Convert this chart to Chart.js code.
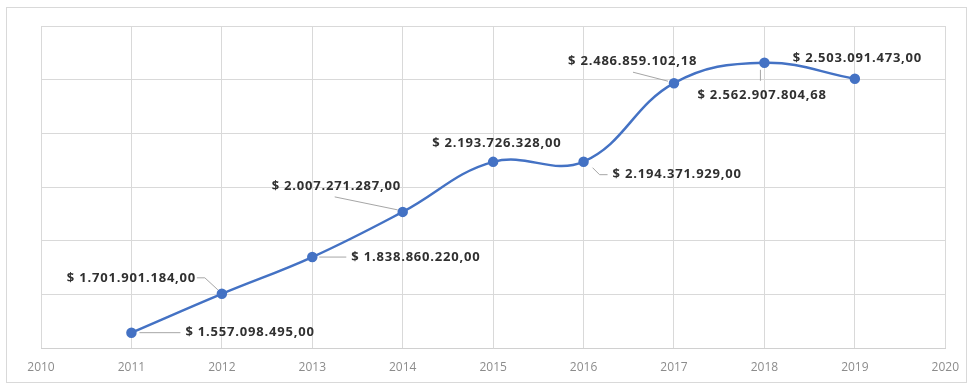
<!DOCTYPE html>
<html>
<head>
<meta charset="utf-8">
<script src="https://cdn.jsdelivr.net/npm/chart.js@4"></script>
<style>
  html, body { margin: 0; padding: 0; background: #ffffff; }
  #wrap { width: 971px; height: 386px; position: relative; }
</style>
</head>
<body>
<div id="wrap"><canvas id="chart" width="971" height="386"></canvas></div>
<script>
// yearly totals
const years = [2011, 2012, 2013, 2014, 2015, 2016, 2017, 2018, 2019];
const totals = [
  1557098495.00, 1701901184.00, 1838860220.00, 2007271287.00, 2193726328.00,
  2194371929.00, 2486859102.18, 2562907804.68, 2503091473.00
];
const xTicks = [2010, 2011, 2012, 2013, 2014, 2015, 2016, 2017, 2018, 2019, 2020];

// where each value label sits relative to its point, plus its leader line
const labelPlacement = [
  { dx: 54, dy: 0, leader: [[8, 0], [49, 0]] },
  { dx: -155, dy: -16, leader: [[-25, -16], [-17, -16], [-4, -4]] },
  { dx: 39, dy: 0, leader: [[7, 0], [34, 0]] },
  { dx: -131, dy: -26, leader: [[-68, -15], [-5, -2]] },
  { dx: -61, dy: -19, leader: null },
  { dx: 29, dy: 13, leader: [[9, 6], [16, 13], [24, 13]] },
  { dx: -106, dy: -22, leader: [[-41, -11], [-6, -2]] },
  { dx: -67, dy: 33, leader: [[-4, 7], [-4, 18]] },
  { dx: -62, dy: -21, leader: null }
];

function money(v) {
  const [ent, dec] = v.toFixed(2).split('.');
  return '$ ' + ent.replace(/\B(?=(\d{3})+(?!\d))/g, '.') + ',' + dec;
}

const frame = {
  id: 'frame',
  beforeDraw(chart) {
    const ctx = chart.ctx;
    ctx.save();
    ctx.fillStyle = '#ffffff';
    ctx.fillRect(0, 0, chart.width, chart.height);
    ctx.strokeStyle = '#d9d9d9';
    ctx.lineWidth = 1;
    ctx.strokeRect(6.5, 7.5, 960, 375);
    ctx.restore();
  }
};

const valueLabels = {
  id: 'valueLabels',
  afterDatasetsDraw(chart) {
    const ctx = chart.ctx;
    const pts = chart.getDatasetMeta(0).data;
    ctx.save();
    pts.forEach((p, i) => {
      const pl = labelPlacement[i];
      if (pl.leader) {
        ctx.strokeStyle = '#a6a6a6';
        ctx.lineWidth = 1;
        ctx.beginPath();
        pl.leader.forEach(([lx, ly], k) => {
          if (k === 0) ctx.moveTo(p.x + lx, p.y + ly);
          else ctx.lineTo(p.x + lx, p.y + ly);
        });
        ctx.stroke();
      }
      ctx.fillStyle = '#303030';
      ctx.font = '700 13px "Open Sans"';
      ctx.letterSpacing = '0.8px';
      ctx.textAlign = 'left';
      ctx.textBaseline = 'middle';
      ctx.fillText(money(totals[i]), p.x + pl.dx, p.y + pl.dy);
    });
    ctx.restore();
  }
};

new Chart(document.getElementById('chart'), {
  type: 'line',
  data: {
    datasets: [{
      data: years.map((y, i) => ({ x: y, y: totals[i] })),
      borderColor: '#4472c4',
      backgroundColor: '#4472c4',
      borderWidth: 2.5,
      pointRadius: 4,
      pointBackgroundColor: '#4472c4',
      pointBorderColor: '#4472c4',
      tension: 0.4,
      fill: false
    }]
  },
  options: {
    responsive: false,
    animation: false,
    layout: { padding: { left: 41, top: 26, right: 24, bottom: 0 } },
    plugins: {
      legend: { display: false },
      tooltip: { enabled: false }
    },
    scales: {
      x: {
        type: 'linear',
        min: 2010,
        max: 2020,
        afterBuildTicks: (s) => { s.ticks = xTicks.map(v => ({ value: v })); },
        afterFit: (s) => { s.height = 38; },
        grid: { color: '#d9d9d9', drawTicks: false },
        border: { color: '#d0d0d0' },
        ticks: {
          padding: 12,
          color: '#8c8c8c',
          font: { family: 'Open Sans', size: 12 },
          callback: (v) => String(v)
        }
      },
      y: {
        min: 1500000000,
        max: 2700000000,
        afterFit: (s) => { s.width = 0; },
        grid: { color: '#d9d9d9', drawTicks: false },
        border: { display: false },
        ticks: { stepSize: 200000000, display: false }
      }
    }
  },
  plugins: [frame, valueLabels]
});
</script>
</body>
</html>
